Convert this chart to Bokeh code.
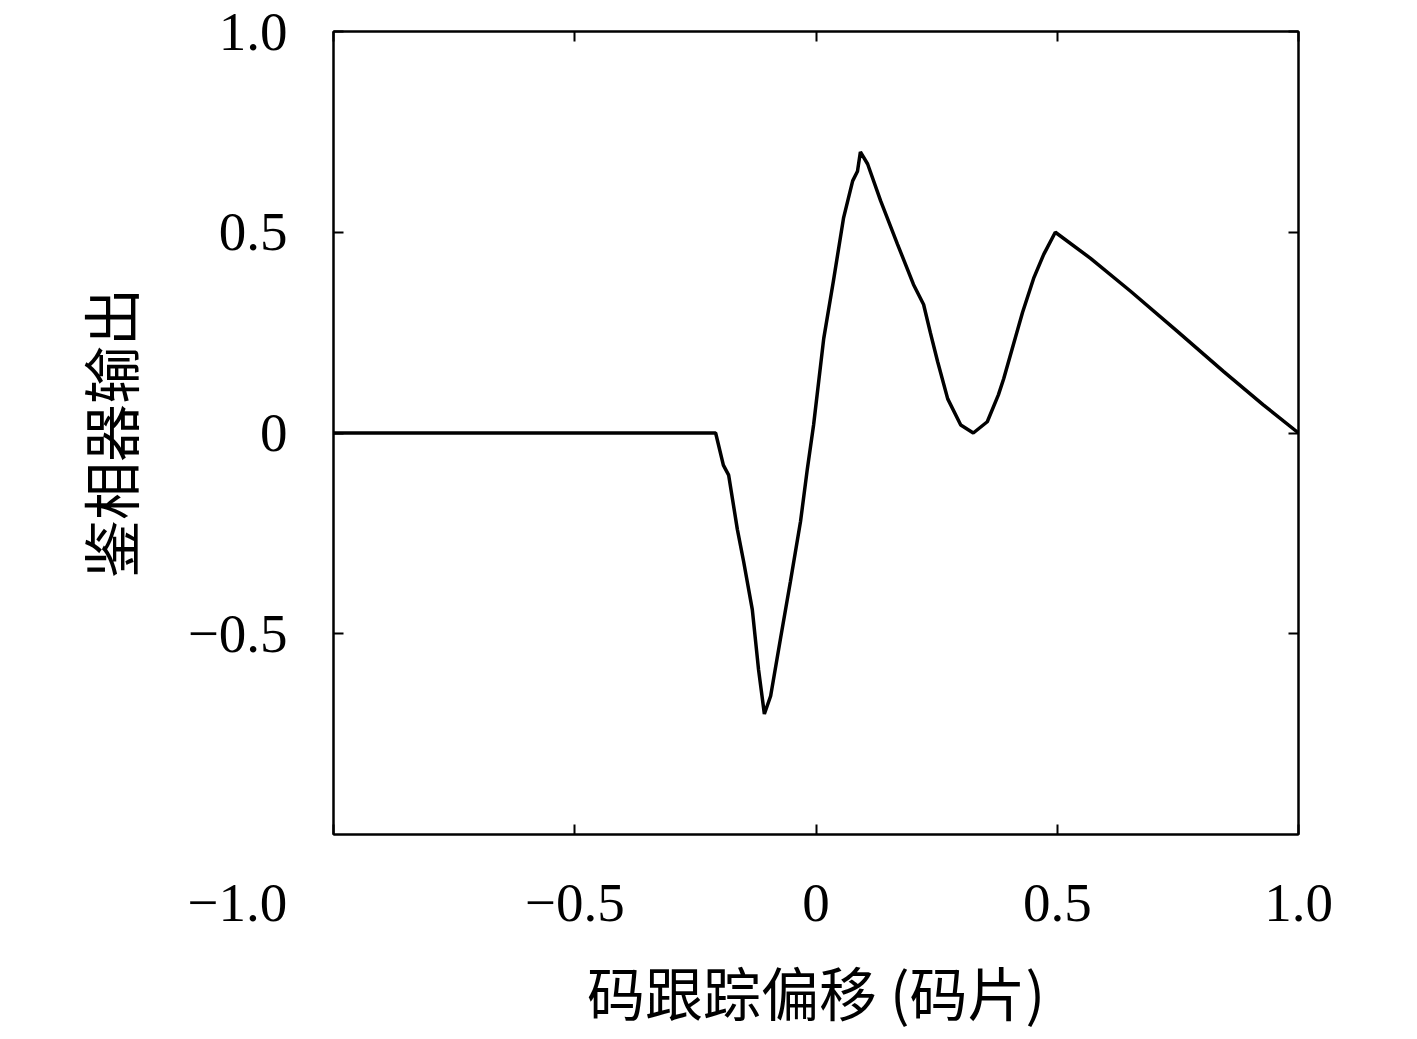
from bokeh.plotting import figure
from bokeh.models import LinearAxis, FixedTicker
from bokeh.embed import file_html
from bokeh.resources import INLINE

# Data
code_offset = [-1.0, -0.208, -0.192, -0.181, -0.163, -0.150, -0.132, -0.119, -0.107,
               -0.094, -0.074, -0.053, -0.032, -0.018, -0.005, 0.016, 0.036, 0.057,
               0.076, 0.086, 0.092, 0.107, 0.134, 0.169, 0.202, 0.223, 0.237, 0.252,
               0.273, 0.300, 0.326, 0.355, 0.378, 0.389, 0.409, 0.428, 0.451, 0.472,
               0.496, 0.569, 0.652, 0.749, 0.845, 0.927, 1.0]
disc_output = [0.0, 0.0, -0.08, -0.105, -0.24, -0.32, -0.44, -0.59, -0.70,
               -0.655, -0.515, -0.37, -0.22, -0.09, 0.02, 0.235, 0.378, 0.535,
               0.628, 0.652, 0.70, 0.67, 0.578, 0.47, 0.37, 0.32, 0.25, 0.178,
               0.085, 0.02, 0.0, 0.028, 0.095, 0.135, 0.22, 0.30, 0.385, 0.445,
               0.50, 0.435, 0.353, 0.253, 0.153, 0.07, 0.0]

x_ticks = [-1.0, -0.5, 0.0, 0.5, 1.0]
# the first label sits left of its tick in the reference (figure spaces pad it)
x_tick_labels = ["\u22121.0" + "\u2007" * 7, "\u22120.5", "0", "0.5", "1.0"]
y_ticks = [-0.5, 0.0, 0.5, 1.0]
y_tick_labels = ["\u22120.5", "0", "0.5", "1.0"]

x_title = "码跟踪偏移 (码片)"
y_title = "鉴相器输出"

SERIF = "Liberation Serif"
CJK = "Noto Sans CJK SC"
TICK_FS = "55px"
TITLE_FS = "58px"

p = figure(width=1400, height=1036, x_range=(-1, 1), y_range=(-1, 1),
           output_backend="svg", toolbar_location=None,
           min_border_left=333, min_border_right=102,
           min_border_top=31, min_border_bottom=202)
p.grid.visible = False
p.outline_line_color = "black"
p.outline_line_width = 2
p.background_fill_color = "white"
p.border_fill_color = "white"

p.line(code_offset, disc_output, line_color="black", line_width=3.5)

def style_axis(ax, ticks, labels, show_labels=True):
    ax.ticker = FixedTicker(ticks=ticks)
    if show_labels:
        ax.major_label_overrides = {t: l for t, l in zip(ticks, labels)}
    else:
        ax.major_label_overrides = {t: "" for t in ticks}
    ax.axis_line_color = "black"
    ax.axis_line_width = 2
    ax.major_tick_line_color = "black"
    ax.major_tick_line_width = 2
    ax.major_tick_in = 10
    ax.major_tick_out = 0
    ax.minor_tick_line_color = None
    ax.major_label_text_font = SERIF
    ax.major_label_text_font_size = TICK_FS
    ax.major_label_text_color = "black"
    ax.axis_label_text_font = CJK
    ax.axis_label_text_font_size = TITLE_FS
    ax.axis_label_text_font_style = "normal"
    ax.axis_label_text_color = "black"

xb = p.xaxis[0]
style_axis(xb, x_ticks, x_tick_labels)
xb.major_label_standoff = 37
xb.axis_label = x_title
xb.axis_label_standoff = 13

yl = p.yaxis[0]
style_axis(yl, y_ticks, y_tick_labels)
yl.major_label_standoff = 46
yl.axis_label = y_title
yl.axis_label_standoff = 34

top = LinearAxis()
style_axis(top, x_ticks, x_tick_labels, show_labels=False)
p.add_layout(top, "above")
right = LinearAxis()
style_axis(right, y_ticks, y_tick_labels, show_labels=False)
p.add_layout(right, "right")

open("out.html", "w").write(file_html(p, INLINE))
